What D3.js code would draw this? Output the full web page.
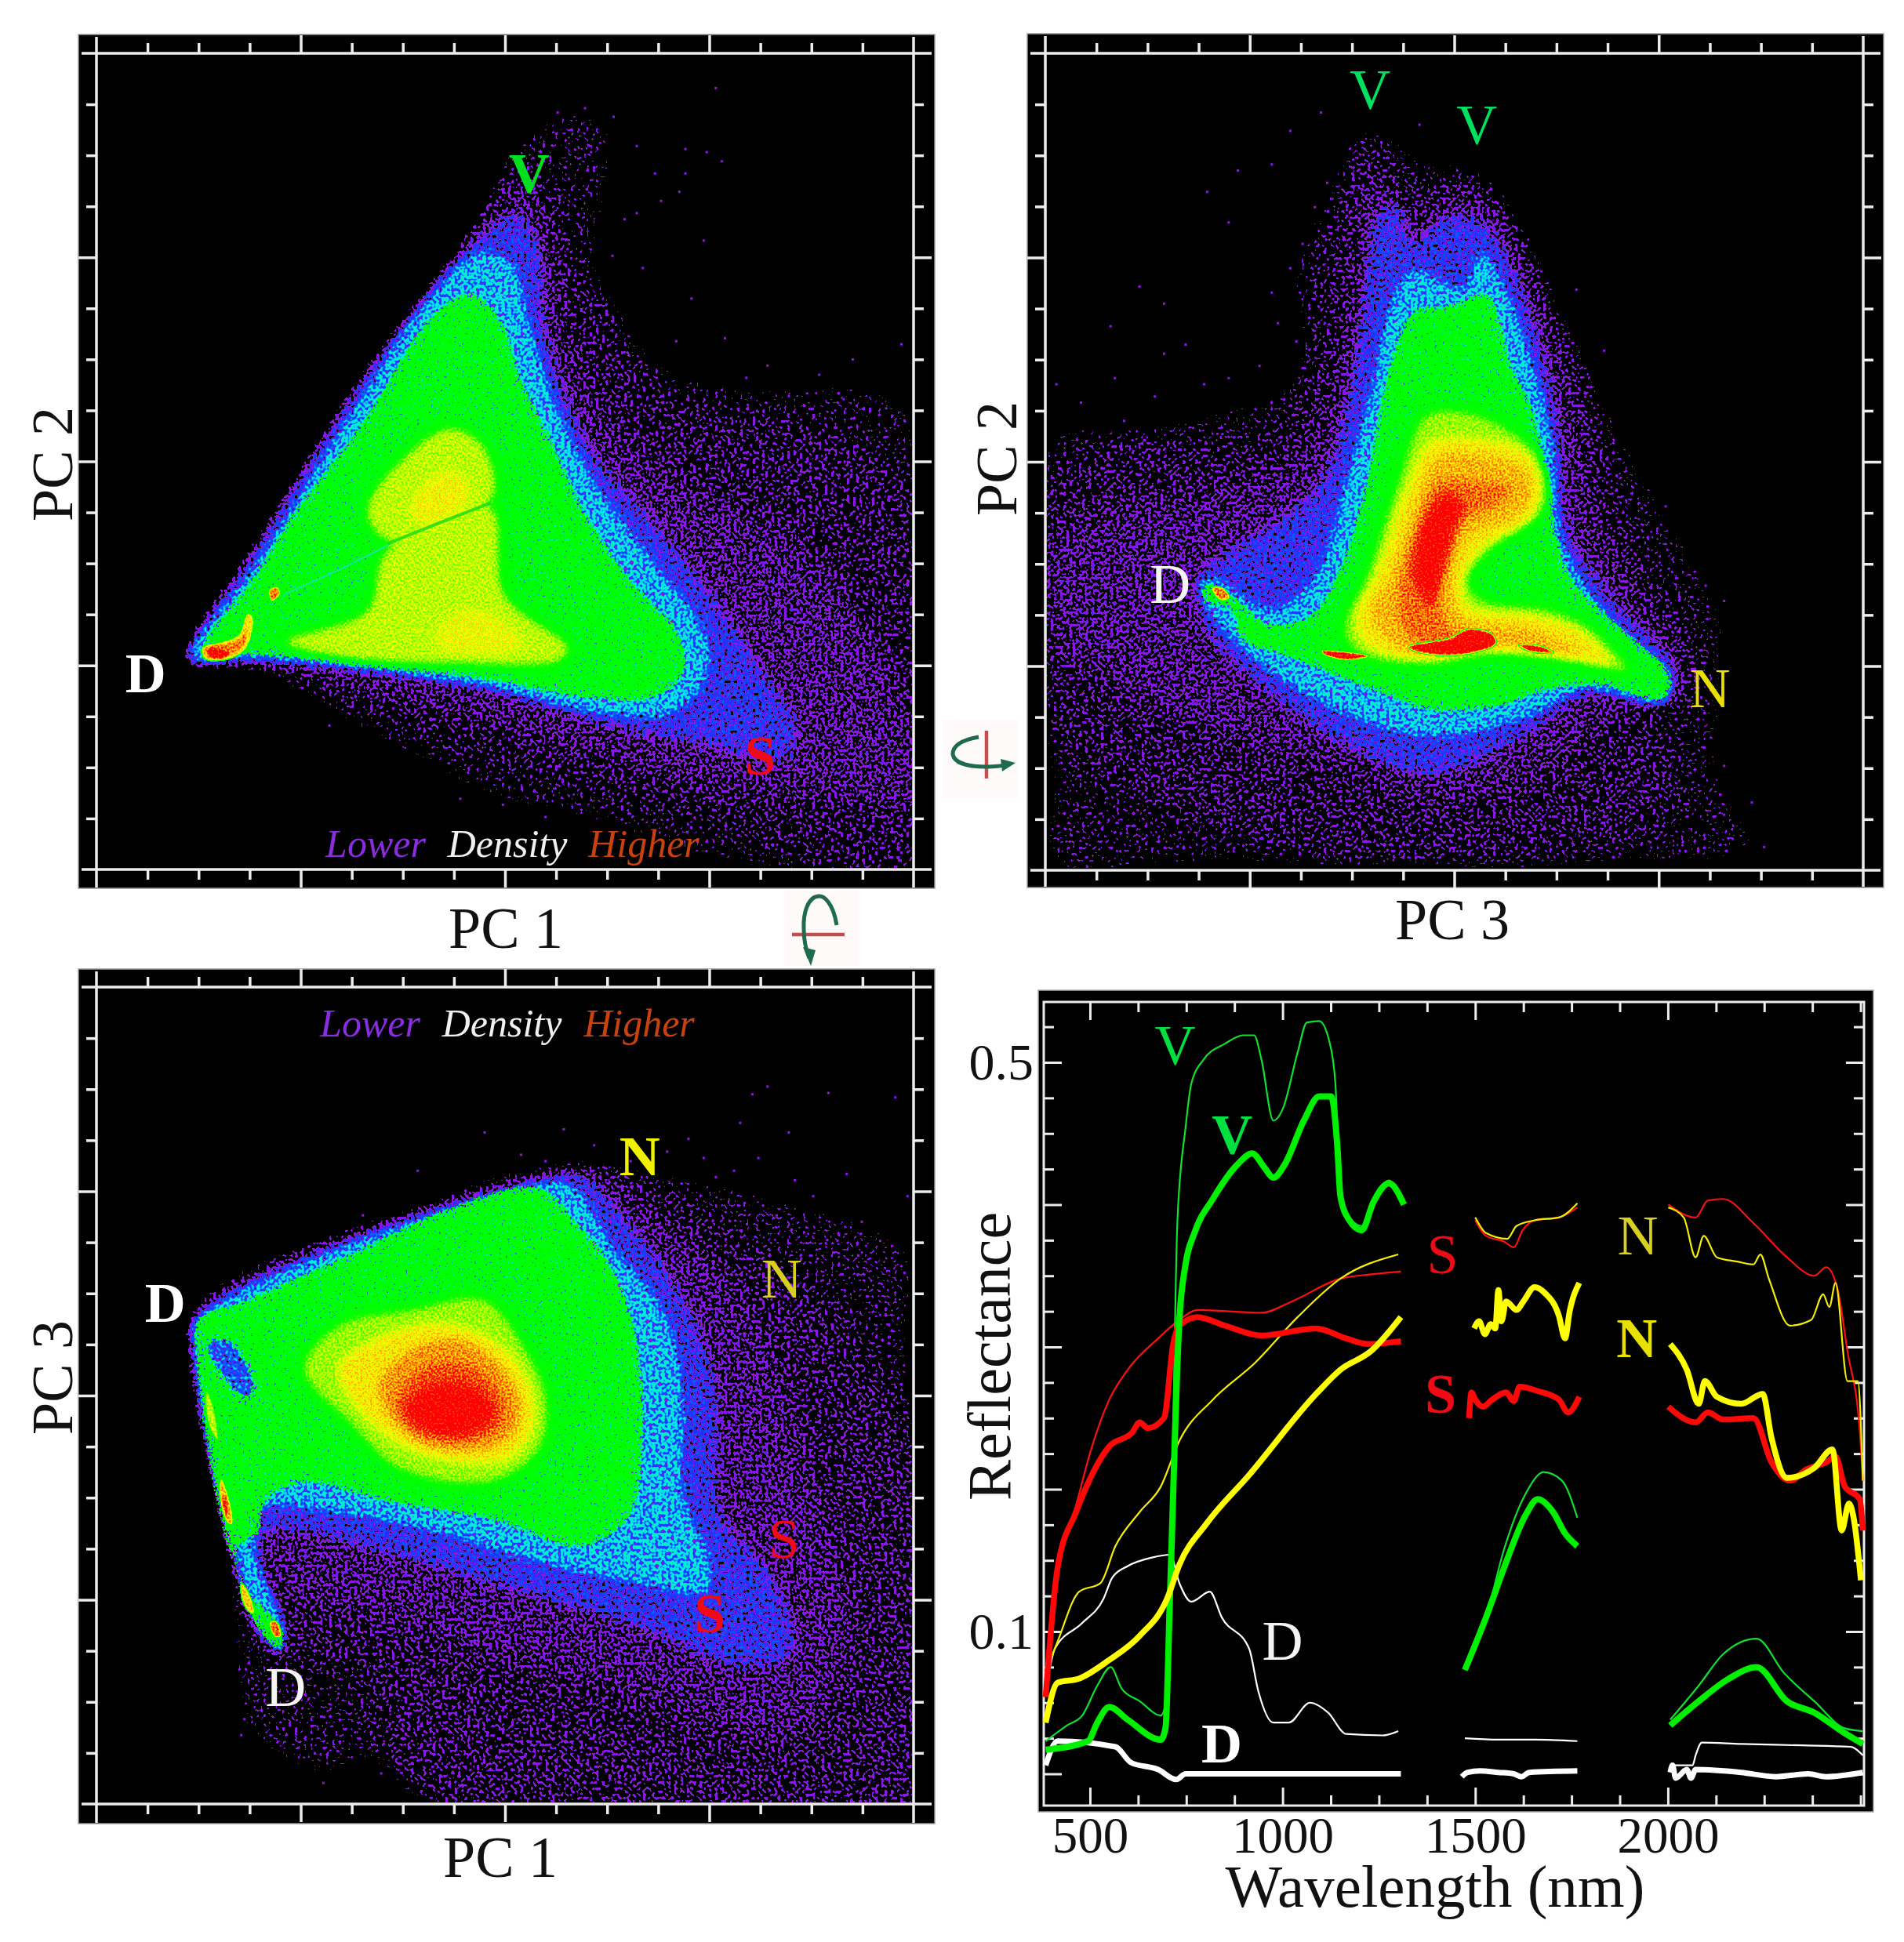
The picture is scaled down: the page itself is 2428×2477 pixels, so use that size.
<!DOCTYPE html>
<html>
<head>
<meta charset="utf-8">
<script src="https://cdn.jsdelivr.net/npm/d3@7"></script>
<style>
  body { margin: 0; background: #fff; }
  text { font-family: "Liberation Serif", serif; }
</style>
</head>
<body>
<div id="vis"></div>
<script>
// PC scores have no printed numbers, so all three scatter panels are read in picture units.
// density levels: low layer (sparse purple -> cyan), high layer (green -> red), hot = tiny peaks

// ---- PC1 / PC2 ----
const p1Low = [
  [0.1, [[310,1075],[420,920],[560,700],[700,500],[800,340],[840,240],[920,170],[970,170],[1015,190],[1020,300],[1000,420],[1040,520],[1130,600],[1250,620],[1400,620],[1505,660],[1510,1430],[1200,1430],[1000,1370],[860,1340],[700,1270],[540,1180],[400,1088],[310,1085]]],
  [0.117, [[310,1075],[450,880],[600,640],[740,440],[830,270],[860,250],[910,300],[940,420],[1000,500],[1060,620],[1180,680],[1330,700],[1480,780],[1510,1000],[1510,1420],[1340,1400],[1150,1330],[960,1290],[760,1220],[600,1160],[420,1092],[310,1085]]],
  [0.142, [[310,1075],[440,880],[600,630],[740,440],[830,330],[880,310],[910,420],[930,560],[1000,690],[1130,800],[1300,880],[1440,1050],[1500,1200],[1500,1320],[1340,1300],[1180,1290],[1000,1240],[800,1180],[620,1130],[420,1085],[310,1085]]],
  [0.28, [[315,1072],[445,870],[600,625],[720,475],[790,395],[850,355],[885,400],[895,530],[925,640],[985,760],[1085,870],[1185,1000],[1265,1120],[1310,1195],[1290,1240],[1150,1215],[1000,1185],[800,1125],[600,1098],[420,1080],[315,1080]]],
  [0.62, [[318,1070],[425,925],[565,705],[705,495],[790,415],[845,435],[875,540],[915,660],[985,800],[1075,920],[1165,1050],[1155,1125],[1100,1170],[1000,1170],[800,1125],[620,1098],[420,1078],[322,1080]]]
];
const p1High = [
  [0.42, [[335,1060],[420,945],[480,850],[600,690],[720,510],[780,480],[830,530],[860,620],[910,720],[960,830],[1040,950],[1120,1040],[1130,1100],[1080,1145],[960,1145],[800,1115],[620,1095],[420,1075],[340,1078]]],
  [0.66, [[605,830],[650,765],[740,700],[795,725],[820,790],[812,822],[640,888],[610,860]]],
  [0.66, [[470,1052],[605,1000],[635,905],[812,832],[835,975],[940,1062],[925,1085],[750,1090],[560,1080]]],
  [0.72, [[680,830],[730,775],[770,790],[770,825],[710,860],[690,855]]],
  [0.71, [[720,1040],[770,1000],[830,1020],[860,1060],[780,1072],[730,1065]]]
];
const p1Hot = [
  [0.74, [[335,1062],[375,1050],[395,1040],[410,1005],[420,1012],[410,1062],[385,1080],[340,1082]]],
  [0.86, [[340,1064],[375,1056],[398,1048],[408,1030],[405,1056],[380,1076],[345,1078]]],
  [1.1, [[345,1066],[360,1064],[380,1072],[368,1080],[350,1076]]],
  [0.86, [[445,968],[460,962],[464,975],[450,987]]]
];
const p1Streaks = [["#18d818", [[640,892],[720,860],[810,825]], 4], ["#20dcc0", [[470,975],[560,935],[640,895]], 2]];
const p1Dots = [[1180,145],[920,185],[965,178],[1012,192],[1130,245],[1165,250],[1190,265],[1080,285],[1130,285],[1050,350],[1120,315],[1160,395],[1090,330],[1140,490],[1195,555],[1265,600],[1405,590],[1485,565],[1350,615],[760,1310],[830,1320],[545,1190],[900,1340],[1010,1380],[1300,1400],[1060,1395],[1115,560],[1230,620],[1300,650],[1390,655],[1460,670],[1490,690],[1190,640],[1010,420],[1060,440],[1030,360],[975,250],[1050,240]];
const p1Tags = [["V",873,285,true,"#00e020"],["D",243,1105,true,"#ffffff"],["S",1253,1240,true,"#f00a14"]];

// ---- PC3 / PC2 ----
const p2Low = [
  [0.1, [[175,700],[300,690],[450,660],[570,600],[560,420],[630,310],[680,200],[730,200],[790,250],[870,260],[940,340],[1000,470],[1060,580],[1110,680],[1190,830],[1280,990],[1290,1100],[1280,1260],[1340,1400],[1100,1430],[800,1430],[400,1430],[170,1430],[165,1300]]],
  [0.117, [[170,800],[300,720],[450,740],[560,710],[610,560],[640,320],[690,225],[730,280],[790,300],[870,300],[940,370],[1000,510],[1050,640],[1080,780],[1130,900],[1210,1040],[1230,1130],[1150,1180],[1200,1300],[1000,1400],[800,1410],[600,1400],[400,1330],[200,1220],[170,1100]]],
  [0.142, [[180,900],[300,830],[450,810],[580,750],[640,670],[680,440],[700,300],[735,310],[760,380],[810,340],[880,320],[930,400],[980,510],[1020,630],[1050,760],[1060,870],[1120,960],[1190,1060],[1200,1120],[1120,1160],[1000,1240],[900,1290],[800,1310],[700,1270],[540,1220],[400,1180],[280,1120],[190,1060]]],
  [0.28, [[425,950],[475,905],[560,850],[625,790],[665,660],[695,480],[712,360],[740,340],[770,405],[820,360],[885,370],[935,455],[975,575],[1005,725],[1015,860],[1095,990],[1190,1090],[1185,1145],[1050,1135],[950,1200],[800,1265],[650,1210],[520,1115],[432,1020]]],
  [0.62, [[425,955],[445,948],[490,978],[540,1000],[612,945],[662,785],[702,645],[732,505],[770,445],[850,475],[880,415],[918,475],[956,575],[995,725],[1015,900],[1095,1020],[1185,1108],[1175,1148],[1050,1128],[950,1175],[800,1205],[650,1165],[520,1085],[470,1040],[432,985]]]
];
const p2High = [
  [0.42, [[425,962],[440,955],[490,985],[530,1020],[600,1010],[650,930],[690,800],[730,600],[770,510],[830,500],[890,480],[930,600],[960,660],[990,780],[1000,860],[1030,950],[1110,1030],[1190,1110],[1175,1148],[1080,1125],[1000,1130],[900,1160],[800,1165],[700,1130],[560,1075],[490,1050],[475,1000],[425,985]]],
  [0.63, [[660,1010],[690,950],[740,800],[790,680],[860,675],[950,720],[990,780],[980,840],[900,900],[860,950],[880,980],[1000,1000],[1060,1030],[1120,1100],[1050,1090],[900,1075],[800,1090],[700,1080],[660,1050]]],
  [0.74, [[680,1000],[710,940],[760,800],[800,725],[870,720],[950,740],[975,790],[960,850],[880,900],[850,960],[860,995],[970,1010],[1050,1040],[1090,1090],[1000,1075],[880,1065],[800,1080],[700,1060],[680,1030]]],
  [0.8, [[700,1000],[730,950],[775,820],[810,750],[880,745],[950,770],[965,810],[930,850],[860,880],[835,950],[850,1010],[960,1030],[1040,1070],[950,1065],[860,1060],[760,1070],[720,1040]]],
  [0.87, [[745,985],[780,850],[810,790],[880,790],[930,800],[900,830],[840,860],[810,940],[830,1030],[880,1045],[800,1060],[760,1040]]],
  [1.0, [[772,950],[790,850],[825,810],[850,825],[835,880],[815,950],[800,990]]]
];
const p2Hot = [
  [1.1, [[760,1060],[830,1045],[860,1030],[900,1040],[905,1055],[860,1072],[790,1072]]],
  [1.1, [[620,1067],[660,1068],[700,1075],[660,1082],[625,1073]]],
  [1.1, [[940,1057],[975,1058],[1000,1070],[960,1068]]],
  [0.85, [[442,962],[462,964],[472,980],[455,984]]]
];
const p2Dots = [[325,470],[365,498],[278,535],[365,580],[400,565],[285,620],[190,630],[435,315],[470,365],[485,280],[540,270],[570,215],[620,185],[1180,830],[1245,960],[1275,985],[1275,1255],[1320,1315],[1275,1335],[1340,1388],[240,1300],[225,1320],[330,1375],[240,1420],[1155,1380],[780,205],[1080,575],[1035,475],[230,660],[300,690],[350,650],[430,630],[470,620],[520,600],[540,480],[570,440],[590,400],[610,340],[630,300],[550,530],[580,560]];
const p2Tags = [["V",700,148,false,"#00e060"],["V",873,205,false,"#00e060"],["D",375,958,false,"#f4f4f4"],["N",1252,1128,false,"#e8e000"]];

// ---- PC1 / PC3 ----
const p3Low = [
  [0.1, [[335,570],[520,500],[620,460],[790,370],[950,340],[1100,350],[1250,380],[1510,480],[1510,620],[1510,1360],[700,1360],[620,1300],[530,1320],[400,1250],[370,1060],[335,640]]],
  [0.117, [[330,575],[900,370],[1000,360],[1130,420],[1300,520],[1400,620],[1510,820],[1510,1360],[1150,1360],[700,1345],[620,1230],[600,1130],[470,1110],[430,980],[330,640]]],
  [0.142, [[330,585],[880,375],[990,365],[1080,440],[1200,540],[1290,680],[1340,850],[1400,1100],[1290,1250],[1150,1210],[1000,1160],[820,1120],[640,1060],[440,1000],[390,870]]],
  [0.28, [[328,590],[900,374],[960,372],[1035,445],[1125,565],[1175,705],[1185,900],[1270,1000],[1300,1115],[1210,1130],[1050,1070],[800,1000],[620,950],[440,925],[430,1050],[468,1108],[432,1088],[392,970],[344,790],[324,640]]],
  [0.62, [[328,595],[900,380],[950,390],[1005,475],[1095,585],[1125,725],[1125,870],[1170,975],[1160,1020],[1050,1005],[900,975],[720,925],[560,895],[430,888],[420,950],[468,1078],[463,1113],[432,1068],[392,958],[352,800],[325,640]]],
  [0.4, [[345,630],[380,630],[420,700],[408,715],[360,665]]]
];
const p3High = [
  [0.42, [[330,590],[400,565],[600,480],[750,415],[890,385],[950,440],[1010,510],[1050,620],[1060,780],[1040,900],[960,950],[820,910],[640,880],[500,850],[440,880],[430,930],[395,950],[420,1030],[445,1050],[470,1090],[470,1112],[450,1105],[415,1060],[375,940],[345,800],[325,640]]],
  [0.0, [[345,630],[380,630],[420,700],[408,715],[360,665]]],
  [0.63, [[500,670],[560,600],[680,575],[800,560],[870,640],[905,720],[890,800],[810,850],[660,830],[580,760]]],
  [0.74, [[560,670],[610,630],[720,600],[820,630],[870,690],[880,760],[840,810],[720,810],[620,760]]],
  [0.83, [[625,700],[680,640],[760,625],[830,670],[860,730],[840,780],[770,800],[680,780]]],
  [0.9, [[655,730],[700,670],[770,665],[825,710],[825,760],[760,785],[690,770]]],
  [1.1, [[670,735],[720,695],[790,705],[815,745],[760,775],[690,760]]]
];
const p3Hot = [
  [0.66, [[342,700],[358,740],[362,785],[350,770],[340,730]]],
  [0.8, [[366,840],[378,865],[386,915],[376,912],[364,870]]],
  [1.1, [[370,870],[376,880],[378,900],[372,890]]],
  [0.78, [[400,1005],[412,1020],[422,1055],[412,1052],[400,1030]]],
  [0.88, [[446,1068],[458,1066],[466,1090],[456,1092]]]
];
const p3Dots = [[1240,240],[1265,228],[1365,238],[1475,245],[1220,285],[1135,310],[1310,375],[1395,365],[1495,400],[930,295],[860,335],[800,300],[690,360],[600,430],[405,1220],[400,1245],[535,1320],[630,1305],[540,1100],[1300,300],[1180,370],[1420,440],[560,1180],[480,1230],[1100,330],[1040,345],[1160,340],[1250,340],[1340,400],[1450,470],[1380,470],[1280,430],[1210,360],[1490,520],[980,320],[900,345]];
const p3Tags = [["N",1055,338,true,"#f0f000"],["N",1288,530,false,"#d8d020"],["S",1292,938,false,"#f00a14"],["S",1170,1055,true,"#f00a14"],["D",275,568,true,"#ffffff"],["D",473,1170,false,"#f4f4f4"]];

// ---- reflectance spectra: [nm, reflectance], three atmospheric windows each ----
const vThin = [
  [[385,.023],[440,.034],[480,.041],[519,.062],[554,.075],[582,.060],[629,.051],[684,.041],[696,.049],[708,.128],[727,.389],[748,.454],[763,.485],[795,.502],[850,.513],[897,.519],[926,.519],[945,.502],[976,.459],[1000,.467],[1039,.507],[1063,.528],[1095,.529],[1121,.515],[1137,.485],[1147,.424],[1165,.395],[1205,.385],[1236,.402],[1276,.417],[1307,.402]],
  [[1473,.073],[1528,.110],[1575,.158],[1631,.197],[1678,.212],[1725,.206],[1765,.180]],
  [[2006,.038],[2080,.062],[2143,.084],[2230,.095],[2301,.071],[2380,.051],[2459,.032],[2506,.030]]
];
const vThick = [
  [[385,.017],[495,.023],[519,.036],[550,.047],[598,.038],[684,.024],[696,.032],[708,.128],[732,.319],[748,.358],[771,.380],[819,.404],[882,.428],[921,.436],[953,.426],[976,.419],[1005,.428],[1055,.459],[1095,.476],[1126,.476],[1142,.441],[1150,.406],[1173,.389],[1205,.382],[1236,.402],[1276,.415],[1315,.400]],
  [[1473,.073],[1528,.110],[1575,.145],[1631,.182],[1662,.193],[1702,.184],[1733,.169],[1765,.160]],
  [[2006,.034],[2080,.051],[2159,.067],[2230,.075],[2309,.051],[2380,.043],[2451,.030],[2506,.021]]
];
const redThin = [
  [[385,.071],[416,.145],[464,.189],[503,.228],[550,.263],[598,.284],[677,.306],[732,.319],[779,.326],[945,.324],[1024,.332],[1150,.348],[1229,.351],[1307,.353]],
  [[1500,.389],[1528,.378],[1575,.374],[1600,.370],[1623,.382],[1654,.389],[1717,.391],[1765,.398]],
  [[2001,.400],[2072,.391],[2104,.403],[2143,.404],[2222,.387],[2309,.363],[2380,.350],[2411,.356],[2440,.341],[2466,.297],[2498,.241],[2506,.206]]
];
const redThick = [
  [[385,.054],[416,.145],[464,.184],[550,.230],[610,.240],[629,.247],[650,.243],[692,.250],[716,.302],[732,.315],[779,.321],[850,.315],[945,.308],[1087,.313],[1165,.306],[1221,.302],[1307,.304]],
  [[1484,.250],[1490,.268],[1500,.263],[1520,.258],[1544,.263],[1580,.268],[1600,.262],[1615,.272],[1662,.269],[1717,.263],[1741,.254],[1770,.265]],
  [[2001,.258],[2072,.247],[2104,.254],[2143,.249],[2222,.250],[2269,.219],[2317,.206],[2360,.214],[2411,.219],[2435,.223],[2459,.202],[2498,.193],[2506,.171]]
];
const yelThin = [
  [[385,.071],[416,.093],[472,.128],[527,.134],[566,.160],[629,.184],[684,.202],[732,.234],[819,.263],[929,.289],[1039,.321],[1150,.348],[1300,.365]],
  [[1500,.391],[1528,.380],[1583,.376],[1607,.385],[1654,.389],[1717,.391],[1765,.401]],
  [[2001,.398],[2041,.391],[2072,.363],[2093,.378],[2127,.363],[2180,.360],[2222,.358],[2240,.365],[2262,.348],[2317,.315],[2372,.319],[2403,.337],[2419,.328],[2435,.345],[2466,.276],[2493,.276],[2506,.206]]
];
const yelThick = [
  [[385,.036],[416,.064],[472,.067],[550,.080],[629,.097],[700,.123],[732,.147],[803,.176],[913,.210],[1087,.267],[1150,.284],[1229,.297],[1307,.321]],
  [[1497,.313],[1510,.318],[1525,.309],[1540,.316],[1552,.313],[1560,.340],[1568,.318],[1580,.332],[1607,.326],[1625,.332],[1654,.342],[1680,.338],[1717,.322],[1733,.306],[1745,.325],[1770,.345]],
  [[2006,.302],[2049,.284],[2080,.260],[2096,.276],[2127,.265],[2190,.260],[2246,.267],[2269,.236],[2309,.208],[2380,.215],[2427,.228],[2451,.171],[2470,.190],[2482,.180],[2501,.136]]
];
const whiteThin = [
  [[385,.058],[409,.088],[480,.106],[535,.123],[558,.138],[598,.146],[661,.152],[708,.154],[732,.134],[763,.121],[811,.128],[842,.110],[913,.088],[937,.058],[976,.036],[1016,.036],[1071,.050],[1118,.043],[1165,.028],[1260,.027],[1300,.030]],
  [[1473,.025],[1560,.024],[1654,.024],[1765,.023]],
  [[2006,.006],[2064,.006],[2072,.013],[2088,.022],[2190,.021],[2348,.020],[2474,.019],[2506,.013]]
];
const whiteThick = [
  [[385,.006],[416,.023],[566,.019],[606,.008],[677,.003],[724,-.004],[748,0],[1307,0]],
  [[1465,-.002],[1480,.001],[1512,.002],[1560,.001],[1600,.000],[1620,-.002],[1640,.001],[1765,.002]],
  [[2006,.001],[2012,.006],[2020,-.003],[2049,.003],[2060,-.003],[2072,.003],[2190,.001],[2280,-.002],[2364,.000],[2410,-.002],[2506,.001]]
];
const p4Tags = [["V",721,.512,false,"#00e040"],["V",869,.449,true,"#00e040"],["S",1415,.365,false,"#f00a14"],["S",1410,.267,true,"#f00a14"],["N",1922,.378,false,"#d8d020"],["N",1919,.306,true,"#e8e000"],["D",1000,.093,false,"#f4f4f4"],["D",842,.021,true,"#ffffff"]];
const nmMajor = [500, 1000, 1500, 2000];
const nmMinor = [625, 750, 875, 1125, 1250, 1375, 1625, 1750, 1875, 2125, 2250, 2375, 2500];
const reflMajor = [0, .1, .2, .3, .4, .5];
const reflMinor = [.025, .05, .075, .125, .15, .175, .225, .25, .275, .325, .35, .375, .425, .45, .475, .525];

// density -> colour tables
const lowStops = [0, .149, .15, .22, .27, .5, .64, .85, 1];
const lowColors = ["#000", "#000", "#8a18e8", "#8a18e8", "#1830ff", "#1060ff", "#00e0f0", "#00f0d0", "#00f0c0"];
const highStops = [0, .5, .56, .63, .72, .83, .95, 1];
const highColors = ["#00ff00", "#00ff00", "#30ff00", "#a0ff00", "#ffff00", "#ffa000", "#ff0000", "#ff0000"];

const svg = d3.select("#vis").append("svg").attr("width", 2428).attr("height", 2477)
  .style("display", "block");
const defs = svg.append("defs");
const axisColor = "#ececec";

// blur of the single low bands, so that their edges fade out
[16, 16, 16, 7, 4].forEach((s, i) => {
  defs.append("filter").attr("id", "soft" + i).attr("filterUnits", "userSpaceOnUse")
    .attr("x", 0).attr("y", 0).attr("width", 2428).attr("height", 2477)
    .attr("color-interpolation-filters", "sRGB")
    .append("feGaussianBlur").attr("stdDeviation", s);
});

function densityFilter(id, r, o) {
  const f = defs.append("filter").attr("id", id)
    .attr("filterUnits", "userSpaceOnUse")
    .attr("x", r[0]).attr("y", r[1]).attr("width", r[2]).attr("height", r[3])
    .attr("color-interpolation-filters", "sRGB");
  f.append("feGaussianBlur").attr("in", "SourceGraphic").attr("stdDeviation", o.blur).attr("result", "d");
  f.append("feTurbulence").attr("type", "fractalNoise").attr("baseFrequency", o.freq)
    .attr("numOctaves", 1).attr("seed", o.seed).attr("result", "t");
  const c = o.contrast, off = 0.5 - c / 2;
  f.append("feColorMatrix").attr("in", "t").attr("type", "matrix")
    .attr("values", `${c} 0 0 0 ${off} ${c} 0 0 0 ${off} ${c} 0 0 0 ${off} 0 0 0 0 1`).attr("result", "n");
  f.append("feComposite").attr("in", "d").attr("in2", "n").attr("operator", "arithmetic")
    .attr("k1", o.amp).attr("k2", 1 - o.amp / 2).attr("k3", 0).attr("k4", 0).attr("result", "v");
  const scale = d3.scaleLinear().domain(o.stops).range(o.colors).clamp(true);
  const table = d3.range(128).map(i => d3.rgb(scale((i + .5) / 128)));
  const tr = f.append("feComponentTransfer").attr("in", "v").attr("result", "col");
  [["R", "r"], ["G", "g"], ["B", "b"]].forEach(ch => {
    tr.append("feFunc" + ch[0]).attr("type", "discrete")
      .attr("tableValues", table.map(t => (t[ch[1]] / 255).toFixed(3)).join(" "));
  });
  if (o.cut) {
    // the edge of the band gets its own, wider and noisier, density
    f.append("feGaussianBlur").attr("in", "SourceGraphic").attr("stdDeviation", o.edgeBlur).attr("result", "dm");
    f.append("feComposite").attr("in", "dm").attr("in2", "n").attr("operator", "arithmetic")
      .attr("k1", o.edgeAmp).attr("k2", 1 - o.edgeAmp / 2).attr("k3", 0).attr("k4", 0).attr("result", "vm");
    f.append("feColorMatrix").attr("in", "vm").attr("type", "matrix")
      .attr("values", `0 0 0 0 0 0 0 0 0 0 0 0 0 0 0 30 0 0 0 ${-30 * o.cut}`).attr("result", "mask");
    f.append("feComposite").attr("in", "col").attr("in2", "mask").attr("operator", "in");
  }
}

const grey = l => { const v = Math.round(Math.min(l, 1) * 255); return `rgb(${v},${v},${v})`; };

function scatterPanel(id, p) {
  const g = svg.append("g");
  const [bl, bt, br, bb] = p.box;
  g.append("rect").attr("x", bl).attr("y", bt).attr("width", br - bl).attr("height", bb - bt)
    .attr("fill", "#000").attr("stroke", "#999").attr("stroke-width", 1.5);
  const x = d3.scaleLinear().domain(p.xDom).range(p.xRange);
  const y = d3.scaleLinear().domain(p.yDom).range(p.yRange);
  const line = d3.line().x(d => x(d[0])).y(d => y(d[1]));
  const blob = d3.line().x(d => x(d[0])).y(d => y(d[1])).curve(d3.curveCatmullRomClosed.alpha(0.5));
  const reg = [p.xRange[0] + 2, p.yRange[1] + 2, p.xRange[1] - p.xRange[0] - 4, p.yRange[0] - p.yRange[1] - 4];

  defs.append("clipPath").attr("id", id + "clip").append("rect")
    .attr("x", reg[0]).attr("y", reg[1]).attr("width", reg[2]).attr("height", reg[3]);

  densityFilter(id + "low", reg, { blur: 1.5, freq: 0.25, contrast: 2.2, amp: 1.5, seed: p.seed, stops: lowStops, colors: lowColors });
  densityFilter(id + "high", reg, { blur: 6, freq: 0.4, contrast: 3, amp: 0.2, seed: p.seed + 3, stops: highStops, colors: highColors, cut: 0.24, edgeBlur: 7, edgeAmp: 0.8 });
  densityFilter(id + "hot", reg, { blur: 1.5, freq: 0.4, contrast: 3, amp: 0.2, seed: p.seed + 5, stops: highStops, colors: highColors, cut: 0.3, edgeBlur: 1.5, edgeAmp: 0.2 });

  const plot = g.append("g").attr("clip-path", `url(#${id}clip)`);
  const layer = (name) => {
    const l = plot.append("g").attr("filter", `url(#${id}${name})`);
    l.append("rect").attr("x", reg[0]).attr("y", reg[1]).attr("width", reg[2]).attr("height", reg[3]).attr("fill", "#000");
    return l;
  };
  const low = layer("low");
  p.low.forEach((b, i) => {
    const path = low.append("path").attr("d", blob(b[1])).attr("fill", grey(b[0]));
    if (i < 5) path.attr("filter", `url(#soft${i})`);
  });
  const high = layer("high");
  p.high.forEach(b => high.append("path").attr("d", blob(b[1])).attr("fill", grey(b[0])));
  const hot = layer("hot");
  p.hot.forEach(b => hot.append("path").attr("d", blob(b[1])).attr("fill", grey(b[0])));
  (p.streaks || []).forEach(s => plot.append("path").attr("d", line(s[1])).attr("fill", "none")
    .attr("stroke", s[0]).attr("stroke-width", s[2]).attr("opacity", 0.8));

  plot.selectAll("rect.dot").data(p.dots).enter().append("rect").attr("class", "dot")
    .attr("x", d => x(d[0]) - 1.5).attr("y", d => y(d[1]) - 1.5).attr("width", 3).attr("height", 3)
    .attr("fill", "#8a18e8");

  // frame: 16 tick steps, every 4th is long, all point outwards
  const xt = d3.range(1, 16).map(i => p.xDom[0] + i * (p.xDom[1] - p.xDom[0]) / 16);
  const yt = d3.range(1, 16).map(i => p.yDom[0] + i * (p.yDom[1] - p.yDom[0]) / 16);
  const isMajor = (v, dom) => Math.round((v - dom[0]) / (dom[1] - dom[0]) * 16) % 4 === 0;
  [[d3.axisTop(x), xt, p.xDom, `translate(0,${p.yRange[1]})`],
   [d3.axisBottom(x), xt, p.xDom, `translate(0,${p.yRange[0]})`],
   [d3.axisLeft(y), yt, p.yDom, `translate(${p.xRange[0]},0)`],
   [d3.axisRight(y), yt, p.yDom, `translate(${p.xRange[1]},0)`]].forEach(a => {
    [true, false].forEach(m => {
      const ag = g.append("g").attr("transform", a[3])
        .call(a[0].tickValues(a[1].filter(v => isMajor(v, a[2]) === m)).tickSize(m ? 23 : 13).tickFormat(""));
      ag.select(".domain").remove();
      ag.selectAll("line").attr("stroke", axisColor).attr("stroke-width", 3.5);
    });
  });
  [[bl + 4, p.yRange[1], br - 4, p.yRange[1]], [bl + 4, p.yRange[0], br - 4, p.yRange[0]],
   [p.xRange[0], bt + 3, p.xRange[0], bb - 1], [p.xRange[1], bt + 3, p.xRange[1], bb - 1]].forEach(l => {
    g.append("line").attr("x1", l[0]).attr("y1", l[1]).attr("x2", l[2]).attr("y2", l[3])
      .attr("stroke", axisColor).attr("stroke-width", 3.5);
  });

  tags(g, p.tags, x, y);
  return g;
}

function tags(g, list, x, y) {
  g.selectAll("text.tag").data(list).enter().append("text").attr("class", "tag")
    .attr("x", d => x(d[1])).attr("y", d => y(d[2])).attr("dy", "0.33em")
    .attr("text-anchor", "middle").attr("font-size", 72)
    .attr("font-weight", d => d[3] ? "bold" : "normal")
    .attr("fill", d => d[4]).text(d => d[0]);
}

scatterPanel("p1", { box: [100, 44, 1192, 1133], xDom: [162, 1505], xRange: [123, 1165], yDom: [1426, 88], yRange: [1109, 68],
  low: p1Low, high: p1High, hot: p1Hot, streaks: p1Streaks, dots: p1Dots, tags: p1Tags, seed: 4 });
scatterPanel("p2", { box: [1310, 43, 2402, 1132], xDom: [172, 1501], xRange: [1333, 2376], yDom: [1426, 88], yRange: [1110, 68],
  low: p2Low, high: p2High, hot: p2Hot, dots: p2Dots, tags: p2Tags, seed: 11 });
scatterPanel("p3", { box: [100, 1236, 1192, 2326], xDom: [162, 1505], xRange: [123, 1165], yDom: [1353, 72], yRange: [2301, 1259],
  low: p3Low, high: p3High, hot: p3Hot, dots: p3Dots, tags: p3Tags, seed: 23 });

// small text of the scatter panels
function axisTitle(txt, px, py, rotate) {
  svg.append("text").attr("transform", `translate(${px},${py})` + (rotate ? " rotate(-90)" : ""))
    .attr("text-anchor", "middle").attr("font-size", 74).attr("fill", "#111").text(txt);
}
axisTitle("PC 1", 645, 1209);
axisTitle("PC 2", 92, 592, true);
axisTitle("PC 3", 1852, 1198);
axisTitle("PC 2", 1296, 585, true);
axisTitle("PC 1", 638, 2394);
axisTitle("PC 3", 92, 1757, true);

function densityKey(xs, py) {
  [["Lower", "#8a2ce0"], ["Density", "#f0f0f0"], ["Higher", "#c8420f"]].forEach((d, i) => {
    svg.append("text").attr("x", xs[i]).attr("y", py).attr("text-anchor", "middle")
      .attr("font-size", 50).attr("font-style", "italic").attr("fill", d[1]).text(d[0]);
  });
}
densityKey([479, 647, 821], 1093);
densityKey([472, 640, 815], 1322);

// rotation icons between the panels
function rotIcon(r, bar, arc, head) {
  const g = svg.append("g");
  g.append("rect").attr("x", r[0]).attr("y", r[1]).attr("width", r[2]).attr("height", r[3]).attr("fill", "#fefafa");
  g.append("line").attr("x1", bar[0]).attr("y1", bar[1]).attr("x2", bar[2]).attr("y2", bar[3])
    .attr("stroke", "#c05050").attr("stroke-width", 4.5);
  g.append("path").attr("d", arc).attr("fill", "none").attr("stroke", "#1f6b4f").attr("stroke-width", 5);
  g.append("path").attr("d", head).attr("fill", "#1f6b4f");
}
rotIcon([1000, 1136, 95, 96], [1010, 1192, 1077, 1192], "M1067,1180 C1062,1150 1050,1143 1045,1143 C1030,1143 1024,1165 1025,1185 C1025,1200 1028,1212 1032,1222", "M1024,1208 L1040,1212 L1034,1232 Z");
rotIcon([1202, 918, 96, 100], [1258, 932, 1258, 993], "M1248,940 C1225,944 1215,952 1215,962 C1217,975 1240,978 1258,978 C1268,978 1278,977 1284,975", "M1276,968 L1295,973 L1278,984 Z");

// ---- spectra panel ----
const px = d3.scaleLinear().domain([380, 2509]).range([1331, 2377]);
const py = d3.scaleLinear().domain([0, .5]).range([2262.5, 1355]);
const p4 = svg.append("g");
p4.append("rect").attr("x", 1324).attr("y", 1263).attr("width", 1065).attr("height", 1048).attr("fill", "#000").attr("stroke", "#aaa").attr("stroke-width", 1.5);

function nmAxis(axis, vals, size, at, label) {
  const a = p4.append("g").attr("transform", at).call(axis.tickValues(vals).tickSizeInner(-size).tickSizeOuter(0).tickPadding(label ? label : 3).tickFormat(label ? d => d : ""));
  a.select(".domain").remove();
  a.selectAll("line").attr("stroke", axisColor).attr("stroke-width", 3);
  a.selectAll("text").attr("font-family", "Liberation Serif").attr("font-size", 65).attr("fill", "#111");
  return a;
}
nmAxis(d3.axisBottom(px), nmMajor, 23, "translate(0,2303)", 14);
nmAxis(d3.axisBottom(px), nmMinor, 13, "translate(0,2303)");
nmAxis(d3.axisTop(px), nmMajor, 23, "translate(0,1278)");
nmAxis(d3.axisTop(px), nmMinor, 13, "translate(0,1278)");
const leftMajor = p4.append("g").attr("transform", "translate(1331,0)")
  .call(d3.axisLeft(py).tickValues(reflMajor).tickSizeInner(-23).tickSizeOuter(0).tickPadding(13)
    .tickFormat(d => (d === .5 || d === .1) ? d3.format(".1f")(d) : ""));
leftMajor.select(".domain").remove();
leftMajor.selectAll("line").attr("stroke", axisColor).attr("stroke-width", 3);
leftMajor.selectAll("text").attr("font-family", "Liberation Serif").attr("font-size", 66).attr("fill", "#111");
[[d3.axisLeft(py), reflMinor, 13, "translate(1331,0)"], [d3.axisRight(py), reflMajor, 23, "translate(2377,0)"], [d3.axisRight(py), reflMinor, 13, "translate(2377,0)"]].forEach(a => {
  const ag = p4.append("g").attr("transform", a[3]).call(a[0].tickValues(a[1]).tickSizeInner(-a[2]).tickSizeOuter(0).tickFormat(""));
  ag.select(".domain").remove();
  ag.selectAll("line").attr("stroke", axisColor).attr("stroke-width", 3);
});
p4.append("rect").attr("x", 1331).attr("y", 1278).attr("width", 1046).attr("height", 1025)
  .attr("fill", "none").attr("stroke", axisColor).attr("stroke-width", 3);

const spectrum = d3.line().x(d => px(d[0])).y(d => py(d[1])).curve(d3.curveMonotoneX);
[[whiteThin, "#ffffff", 2.2], [redThin, "#ff1010", 2.2], [yelThin, "#f4ee00", 2.2], [vThin, "#10e030", 2.2],
 [whiteThick, "#ffffff", 7], [redThick, "#ff0808", 7.5], [vThick, "#00f000", 8], [yelThick, "#ffff00", 7.5]].forEach(s => {
  s[0].forEach(part => {
    p4.append("path").attr("d", spectrum(part)).attr("fill", "none").attr("stroke", s[1])
      .attr("stroke-width", s[2]).attr("stroke-linejoin", "round");
  });
});
tags(p4, p4Tags, px, py);

svg.append("text").attr("x", 1830).attr("y", 2432).attr("text-anchor", "middle").attr("font-size", 77).attr("fill", "#111").text("Wavelength (nm)");
svg.append("text").attr("transform", "translate(1288,1730) rotate(-90)").attr("text-anchor", "middle").attr("font-size", 78).attr("fill", "#111").text("Reflectance");
</script>
</body>
</html>
